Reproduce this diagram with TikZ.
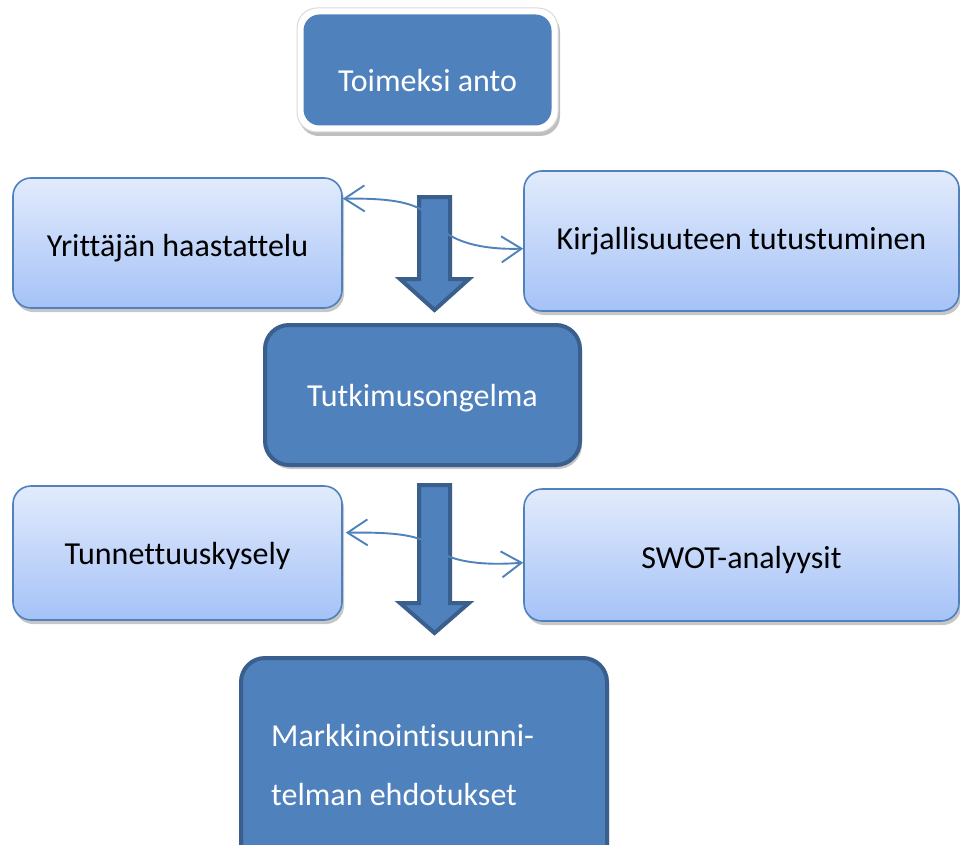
\documentclass[tikz,border=0pt]{standalone}
\usepackage{fontspec}
\setmainfont[Ligatures={NoCommon}]{Carlito}
\usetikzlibrary{shadows,arrows.meta}
\definecolor{accent}{HTML}{4F81BD}
\definecolor{accentdark}{HTML}{3A5F8C}
\definecolor{lighttop}{HTML}{E2EBFC}
\definecolor{lightbot}{HTML}{A5C2F7}
\tikzset{
  shad/.style={drop shadow={shadow xshift=2pt,shadow yshift=-4pt,fill=black,opacity=0.22}},
  lightbox/.style={rounded corners=18pt, draw=accent, line width=1.6pt,
    top color=lighttop, bottom color=lightbot, shad, text=black,
    font=\fontsize{32}{36}\selectfont, inner sep=0pt},
  darkbox/.style={rounded corners=24pt, draw=accentdark, line width=4pt,
    fill=accent, shad, text=white, font=\fontsize{32}{36}\selectfont, inner sep=0pt},
  blockarrow/.style={draw=accentdark, line width=4pt, fill=accent, line join=miter},
  link/.style={draw=accent, line width=1.9pt,
    {Straight Barb[length=20pt,width=26pt,line width=1.9pt]}-{Straight Barb[length=20pt,width=26pt,line width=1.9pt]}},
  lbl/.style={font=\fontsize{32}{36}\selectfont, inner sep=0pt}
}
\begin{document}
\begin{tikzpicture}[x=1pt,y=-1pt]
\useasboundingbox (0,0) rectangle (960,845);
\clip (0,0) rectangle (960,845);
\fill[white] (0,0) rectangle (960,845);

% top box: white frame with soft edge, blue inside
\node[rounded corners=20pt, draw=black!14, line width=1pt, fill=white,
      drop shadow={shadow xshift=2pt,shadow yshift=-4pt,fill=black,opacity=0.25},
      minimum width=261pt, minimum height=124pt, inner sep=0pt] (frame) at (427.5,70) {};
\node[rounded corners=16pt, fill=accent, minimum width=248pt, minimum height=111pt,
      inner sep=0pt] (toim) at (frame.center) {};
\node[lbl, text=white] (toimt) at ([yshift=-11pt]toim.center) {Toimeksi anto};

% block arrows
\draw[blockarrow] (419,197) -- (450,197) -- (450,279) -- (469,279) -- (434.5,310)
  -- (400,279) -- (419,279) -- cycle;
\draw[blockarrow] (419,485) -- (450,485) -- (450,603) -- (469,603) -- (434.5,633)
  -- (400,603) -- (419,603) -- cycle;

% side boxes
\node[lightbox, minimum width=329pt, minimum height=130pt] (yr) at (177.5,243) {};
\node[lbl] (yrt) at ([yshift=-5pt]yr.center) {Yrittäjän haastattelu};
\node[lightbox, minimum width=435pt, minimum height=140pt] (kir) at (741.5,241) {};
\node[lbl] (kirt) at (kir.center) {Kirjallisuuteen tutustuminen};

\node[darkbox, minimum width=315pt, minimum height=140pt] (tut) at (422.5,395) {};
\node[lbl, text=white] (tutt) at ([yshift=-3pt]tut.center) {Tutkimusongelma};

\node[lightbox, minimum width=329pt, minimum height=134pt] (tun) at (177.5,553) {};
\node[lbl] (tunt) at ([yshift=-3pt]tun.center) {Tunnettuuskysely};
\node[lightbox, minimum width=435pt, minimum height=132pt] (swot) at (741.5,555) {};
\node[lbl] (swott) at ([yshift=-5pt]swot.center) {SWOT-analyysit};

\node[darkbox, minimum width=366pt, minimum height=214pt] (mark) at (424,765) {};
\node[lbl, text=white, align=left, anchor=west, font=\fontsize{32}{59}\selectfont]
  (markt) at ([xshift=32pt,yshift=0pt]mark.west) {Markkinointisuunni-\\telman ehdotukset};

% curved links
\draw[link] (yr.15.6) .. controls (395,198) and (422,203) .. (435,222)
  .. controls (448,241) and (480,250) .. (kir.182.4);
\draw[link] ([xshift=3pt]tun.7.4) .. controls (395,532) and (422,535) .. (435,548)
  .. controls (448,561) and (480,566) .. (swot.182.9);
\end{tikzpicture}
\end{document}
